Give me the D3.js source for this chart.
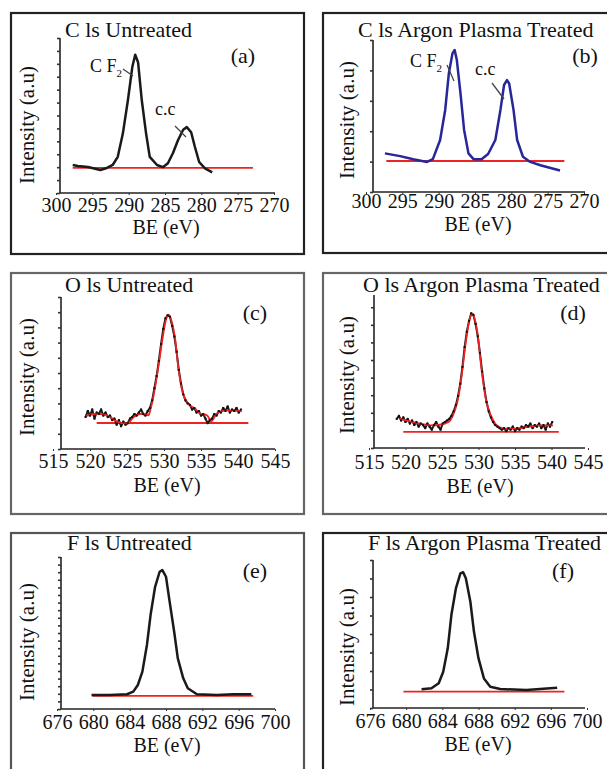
<!DOCTYPE html>
<html>
<head>
<meta charset="utf-8">
<script src="https://cdn.jsdelivr.net/npm/d3@7"></script>
<style>
  body { margin: 0; background: #fff; }
  svg { display: block; }
  text { font-family: "Liberation Serif", "Times New Roman", serif; fill: #111; }
</style>
</head>
<body>
<div id="chart"></div>
<script>
// texts
var titles = ["C ls Untreated", "C ls Argon Plasma Treated", "O ls Untreated",
              "O ls Argon Plasma Treated", "F ls Untreated", "F ls Argon Plasma Treated"];
var letters = ["(a)", "(b)", "(c)", "(d)", "(e)", "(f)"];
var xLabel = "BE (eV)";
var yLabel = "Intensity (a.u)";

// tick labels
var cTicks = [300, 295, 290, 285, 280, 275, 270];
var oTicks = [515, 520, 525, 530, 535, 540, 545];
var fTicks = [676, 680, 684, 688, 692, 696, 700];

// (a) C 1s untreated
var beA  = [297.7, 297.0, 295.6, 293.9, 293.0, 292.2, 291.5, 290.8, 290.1, 289.5, 289.1, 288.7, 288.2, 287.6, 287.1,
            286.1, 285.3, 284.6, 283.9, 283.2, 282.5, 282.0, 281.4, 280.9, 280.3, 279.5, 278.5];
var intA = [2.17, 2.09, 2.01, 1.78, 1.94, 2.17, 2.8, 4.6, 7.2, 9.75, 10.7, 10.1, 7.2, 4.6, 2.8,
            2.17, 2.0, 2.3, 3.1, 4.1, 4.9, 5.1, 4.7, 3.6, 2.4, 1.9, 1.6];

// (b) C 1s argon plasma treated
var beB  = [297.4, 295.3, 293.5, 291.6, 290.8, 289.8, 289.1, 288.6, 288.1, 287.8, 287.5, 287.0, 286.5, 285.9, 285.2,
            284.1, 283.2, 282.2, 281.5, 281.0, 280.6, 280.3, 279.7, 279.2, 278.4, 277.4, 276.0, 274.6, 273.3];
var intB = [1.27, 1.18, 1.08, 0.99, 1.08, 1.71, 2.7, 3.9, 4.56, 4.67, 4.34, 3.25, 2.04, 1.27, 1.08,
            1.08, 1.25, 1.71, 2.7, 3.52, 3.68, 3.57, 2.7, 1.71, 1.16, 0.99, 0.88, 0.79, 0.71];

// (c) O 1s untreated, raw data and fit
var beC  = [519.4, 519.7, 520.0, 520.3, 520.6, 520.9, 521.2, 521.5, 521.8, 522.1, 522.4, 522.7, 523.0, 523.3, 523.6,
            523.9, 524.2, 524.5, 524.8, 525.1, 525.4, 525.7, 526.0, 526.3, 526.6, 526.9, 527.2, 527.5, 527.8, 528.1,
            528.4, 528.7, 529.0, 529.3, 529.6, 529.9, 530.2, 530.5, 530.8, 531.1, 531.4, 531.7, 532.0, 532.3, 532.6,
            532.9, 533.2, 533.5, 533.8, 534.1, 534.4, 534.7, 535.0, 535.3, 535.6, 535.9, 536.2, 536.5, 536.8, 537.1,
            537.4, 537.7, 538.0, 538.3, 538.6, 538.9, 539.2, 539.5, 539.8, 540.1, 540.4];
var intC = [2.1, 2.5, 2.2, 2.6, 2.0, 2.4, 2.3, 2.6, 2.2, 2.4, 2.1, 2.2, 1.9, 2.0, 1.6,
            1.9, 1.5, 1.8, 1.6, 1.7, 2.0, 2.1, 2.3, 2.2, 2.4, 2.6, 2.3, 2.2, 2.5, 2.7,
            3.2, 4.0, 4.8, 5.8, 6.9, 7.9, 8.6, 8.8, 8.7, 8.1, 7.4, 6.4, 5.2, 4.3, 3.6,
            3.2, 3.0, 2.9, 2.6, 2.7, 2.4, 2.5, 2.2, 2.3, 2.0, 1.7, 1.9, 2.0, 2.3, 2.2,
            2.5, 2.4, 2.7, 2.5, 2.8, 2.4, 2.6, 2.5, 2.7, 2.4, 2.6];
var beCfit  = [519.5, 520.9, 522.3, 523.6, 525.0, 525.9, 527.0, 527.9, 528.2, 528.6, 529.2, 529.8, 530.3, 530.6, 531.0,
               531.5, 531.9, 532.5, 533.3, 534.2, 534.9, 535.8, 536.4, 537.1, 538.5, 540.5];
var intCfit = [2.17, 2.32, 2.22, 1.82, 1.67, 2.1, 2.32, 2.22, 2.65, 3.53, 5.28, 7.26, 8.57, 8.84, 8.46,
               7.26, 5.5, 3.75, 2.98, 2.65, 2.32, 2.22, 1.82, 2.32, 2.54, 2.48];

// (d) O 1s argon plasma treated, raw data and fit
var beD  = [518.8, 519.1, 519.4, 519.7, 520.0, 520.3, 520.6, 520.9, 521.2, 521.5, 521.8, 522.1, 522.4, 522.7, 523.0,
            523.3, 523.6, 523.9, 524.2, 524.5, 524.8, 525.1, 525.4, 525.7, 526.0, 526.3, 526.6, 526.9, 527.2, 527.5,
            527.8, 528.1, 528.4, 528.7, 529.0, 529.3, 529.6, 529.9, 530.2, 530.5, 530.8, 531.1, 531.4, 531.7, 532.0,
            532.3, 532.6, 532.9, 533.2, 533.5, 533.8, 534.1, 534.4, 534.7, 535.0, 535.3, 535.6, 535.9, 536.2, 536.5,
            536.8, 537.1, 537.4, 537.7, 538.0, 538.3, 538.6, 538.9, 539.2, 539.5, 539.8, 540.1];
var intD = [1.9, 2.1, 1.8, 2.0, 1.7, 1.9, 1.6, 1.8, 1.5, 1.7, 1.4, 1.6, 1.5, 1.3, 1.6,
            1.4, 1.2, 1.5, 1.7, 1.4, 1.2, 1.6, 1.7, 1.8, 1.9, 2.1, 2.4, 2.8, 3.4, 4.2,
            5.3, 6.6, 7.6, 8.3, 8.8, 8.7, 8.1, 7.3, 6.2, 5.0, 3.9, 3.0, 2.4, 2.0, 1.7,
            1.5, 1.4, 1.3, 1.2, 1.3, 1.1, 1.3, 1.2, 1.4, 1.1, 1.3, 1.2, 1.4, 1.3, 1.5,
            1.4, 1.6, 1.3, 1.5, 1.4, 1.6, 1.3, 1.5, 1.2, 1.6, 1.4, 1.7];
var beDfit  = [519.2, 520.6, 522.0, 523.4, 524.7, 525.9, 526.5, 527.1, 527.7, 528.2, 528.7, 529.1, 529.4, 529.9, 530.4,
               531.0, 531.7, 532.5, 533.6, 535.0, 536.6, 538.4, 540.2];
var intDfit = [1.92, 1.74, 1.59, 1.48, 1.52, 1.7, 2.13, 3.0, 4.75, 6.71, 8.24, 8.78, 8.56, 7.37, 5.18,
               3.22, 2.13, 1.48, 1.26, 1.26, 1.37, 1.48, 1.48];

// (e) F 1s untreated
var beE  = [679.8, 681.8, 683.7, 684.4, 684.9, 685.4, 685.9, 686.3, 686.8, 687.3, 687.6, 688.0, 688.4, 688.9, 689.3,
            689.9, 690.4, 691.4, 693.6, 695.4, 697.4];
var intE = [0.92, 0.92, 0.97, 1.14, 1.58, 2.46, 4.21, 6.18, 8.04, 9.03, 9.14, 8.7, 7.06, 5.08, 3.33,
            2.02, 1.36, 0.97, 0.92, 0.97, 0.97];

// (f) F 1s argon plasma treated
var beF  = [681.7, 682.8, 683.6, 684.1, 684.6, 685.0, 685.5, 686.0, 686.3, 686.6, 687.1, 687.5, 688.0, 688.6, 689.3,
            690.4, 693.3, 694.8, 696.7];
var intF = [1.26, 1.33, 1.67, 2.45, 4.03, 6.28, 8.08, 9.1, 9.17, 8.76, 7.18, 5.15, 3.35, 2.0, 1.44,
            1.28, 1.22, 1.28, 1.37];

// red baselines: [start BE, end BE, level]
var baseA = [297.7, 272.9, 1.94];
var baseB = [297.2, 272.7, 1.02];
var baseC = [520.9, 541.4, 1.71];
var baseD = [519.7, 541.0, 1.05];
var baseE = [679.9, 697.6, 0.86];
var baseF = [679.7, 697.5, 1.10];

// layout of each panel (pixels)
var panels = [
  {frame:[11, 13, 293, 241], fc:"#222", ax:60, ay:193, top:38, right:275, xr:[56,274], yd:[0,12], ys:1, tl:19,
   ticks:cTicks, title:[65,37], letter:[243,63], ylab:[34,125], blab:[166,234],
   be:beA, it:intA, col:"#1a1a1a", base:baseA},
  {frame:[323, 13, 300, 240], fc:"#222", ax:373, ay:192, top:40, right:585, xr:[366,584], yd:[0,5], ys:1, tl:16,
   ticks:cTicks, title:[358,37], letter:[585,63], ylab:[354,120], blab:[478,231],
   be:beB, it:intB, col:"#27279a", base:baseB},
  {frame:[11, 273, 293, 241], fc:"#666", ax:61, ay:449, top:297, right:275, xr:[53,275], yd:[0,10], ys:1, tl:19,
   ticks:oTicks, title:[65,292], letter:[255,320], ylab:[34,377], blab:[167,492],
   be:beC, it:intC, fitBe:beCfit, fitIt:intCfit, col:"#1a1a1a", base:baseC},
  {frame:[323, 273, 300, 241], fc:"#666", ax:374, ay:448, top:295, right:585, xr:[369,588], yd:[0,10], ys:1.15, tl:21,
   ticks:oTicks, title:[363,292], letter:[573,320], ylab:[354,375], blab:[480,493],
   be:beD, it:intD, fitBe:beDfit, fitIt:intDfit, col:"#1a1a1a", base:baseD},
  {frame:[11, 533, 293, 250], fc:"#555", ax:61, ay:709, top:557, right:275, xr:[57,275], yd:[0,10], ys:0.5, tl:20,
   ticks:fTicks, title:[67,550], letter:[255,578], ylab:[34,642], blab:[167,752],
   be:beE, it:intE, col:"#1a1a1a", base:baseE},
  {frame:[323, 533, 300, 250], fc:"#222", ax:373, ay:708, top:560, right:585, xr:[370,587], yd:[0,10], ys:1.25, tl:20,
   ticks:fTicks, title:[368,550], letter:[563,578], ylab:[354,647], blab:[478,751],
   be:beF, it:intF, col:"#1a1a1a", base:baseF}
];

var width = 607, height = 769;
var svg = d3.select("#chart").append("svg")
    .attr("width", width).attr("height", height);

panels.forEach(function(p, i) {
  var g = svg.append("g");
  var x = d3.scaleLinear().domain([p.ticks[0], p.ticks[p.ticks.length - 1]]).range(p.xr);
  var y = d3.scaleLinear().domain(p.yd).range([p.ay, p.top]);

  // frame
  g.append("rect")
    .attr("x", p.frame[0]).attr("y", p.frame[1])
    .attr("width", p.frame[2]).attr("height", p.frame[3])
    .attr("fill", "none").attr("stroke", p.fc).attr("stroke-width", 2.2);

  // axes lines
  g.append("line").attr("x1", p.ax).attr("x2", p.ax).attr("y1", p.top).attr("y2", p.ay)
    .attr("stroke", "#222").attr("stroke-width", 1.6);
  g.append("line").attr("x1", p.ax).attr("x2", p.right).attr("y1", p.ay).attr("y2", p.ay)
    .attr("stroke", "#222").attr("stroke-width", 1.6);

  // y ticks (no labels)
  var yt = d3.range(p.yd[0], p.yd[1] + 1e-6, p.ys);
  var yAxis = g.append("g").attr("transform", "translate(" + p.ax + ",0)")
    .call(d3.axisLeft(y).tickValues(yt).tickSize(3).tickFormat(""));
  yAxis.select(".domain").remove();
  yAxis.selectAll("line").attr("stroke", "#333").attr("stroke-width", 1.6);

  // x axis ticks + labels
  var xAxis = g.append("g").attr("transform", "translate(0," + p.ay + ")")
    .call(d3.axisBottom(x).tickValues(p.ticks).tickSize(2).tickFormat(d3.format("d")));
  xAxis.select(".domain").remove();
  xAxis.selectAll("line").attr("stroke", "#333");
  xAxis.selectAll("text")
    .attr("dy", null)
    .attr("y", p.tl)
    .style("font-family", '"Liberation Serif", "Times New Roman", serif')
    .style("font-size", "20px")
    .attr("fill", "#111");

  // red baseline
  g.append("line")
    .attr("x1", x(p.base[0])).attr("x2", x(p.base[1]))
    .attr("y1", y(p.base[2])).attr("y2", y(p.base[2]))
    .attr("stroke", "#ee2222").attr("stroke-width", 1.8);

  var line = d3.line().x(function(d) { return x(d[0]); }).y(function(d) { return y(d[1]); });

  // spectrum
  g.append("path")
    .datum(d3.zip(p.be, p.it))
    .attr("d", line)
    .attr("fill", "none").attr("stroke", p.col)
    .attr("stroke-width", p.fitBe ? 2 : 2.5)
    .attr("stroke-linejoin", "round");

  if (p.fitBe) {
    g.append("path")
      .datum(d3.zip(p.fitBe, p.fitIt))
      .attr("d", line.curve(d3.curveMonotoneX))
      .attr("fill", "none").attr("stroke", "#ee2222").attr("stroke-width", 1.8);
    g.selectAll(".pt")
      .data(d3.zip(p.be, p.it))
      .enter().append("rect")
      .attr("x", function(d) { return x(d[0]) - 1; })
      .attr("y", function(d) { return y(d[1]) - 1; })
      .attr("width", 2).attr("height", 2)
      .attr("fill", "#111");
  }

  // texts
  g.append("text").attr("x", p.title[0]).attr("y", p.title[1])
    .style("font-size", "22px").text(titles[i]);
  g.append("text").attr("x", p.letter[0]).attr("y", p.letter[1])
    .attr("text-anchor", "middle").style("font-size", "22px").text(letters[i]);
  g.append("text").attr("x", p.blab[0]).attr("y", p.blab[1])
    .attr("text-anchor", "middle").style("font-size", "20px").text(xLabel);
  g.append("text")
    .attr("transform", "translate(" + p.ylab[0] + "," + p.ylab[1] + ") rotate(-90)")
    .attr("text-anchor", "middle").style("font-size", "21px").text(yLabel);

  // peak annotations on the C 1s panels
  if (i < 2) {
    var ann = i === 0
      ? {cf:[90, 72], cfl:[[123, 69], [133, 76]], cc:[155, 115], ccl:[[175, 126], [186, 137]]}
      : {cf:[410, 67], cfl:[[447, 65], [454, 81]], cc:[475, 75], ccl:[[492, 83], [504, 99]]};
    var t = g.append("text").attr("x", ann.cf[0]).attr("y", ann.cf[1]).style("font-size", "18px");
    t.append("tspan").text("C F");
    t.append("tspan").attr("dy", 5).style("font-size", "11px").text("2");
    g.append("line")
      .attr("x1", ann.cfl[0][0]).attr("y1", ann.cfl[0][1])
      .attr("x2", ann.cfl[1][0]).attr("y2", ann.cfl[1][1])
      .attr("stroke", "#444").attr("stroke-width", 1.3);
    g.append("text").attr("x", ann.cc[0]).attr("y", ann.cc[1])
      .style("font-size", "18px").text("c.c");
    g.append("line")
      .attr("x1", ann.ccl[0][0]).attr("y1", ann.ccl[0][1])
      .attr("x2", ann.ccl[1][0]).attr("y2", ann.ccl[1][1])
      .attr("stroke", "#444").attr("stroke-width", 1.3);
  }
});
</script>
</body>
</html>
